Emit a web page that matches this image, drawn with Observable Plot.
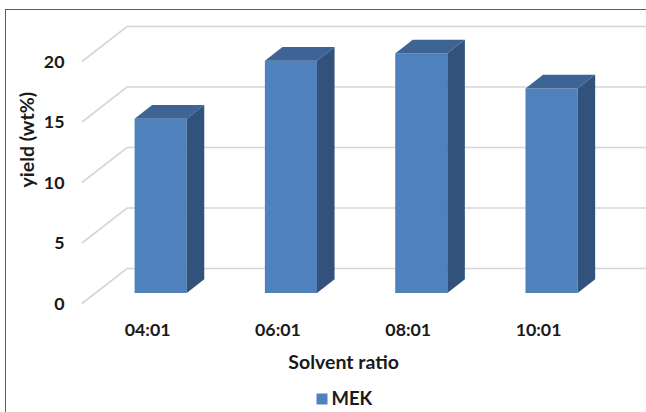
<!DOCTYPE html>
<html><head><meta charset="utf-8">
<script src="https://cdn.jsdelivr.net/npm/d3@7"></script>
<script src="https://cdn.jsdelivr.net/npm/@observablehq/plot@0.6"></script>
<style>
html,body{margin:0;padding:0;background:#fff;}
#frame{position:absolute;left:5px;top:9px;width:700px;height:500px;border-left:1.6px solid #5e5e5e;border-top:1.6px solid #5e5e5e;}
#chart{position:absolute;left:0;top:0;}
</style></head><body>
<div id="frame"></div><div id="chart"></div>
<script>
// ---- data ----
const categories = ["04:01", "06:01", "08:01", "10:01"];
const yieldValues = [14.4, 19.2, 19.8, 16.9];
const yTicks = [0, 5, 10, 15, 20];
const seriesName = "MEK";
const xTitle = "Solvent ratio";
const yTitle = "yield (wt%)";

const data = categories.map((c, i) => ({ratio: c, value: yieldValues[i]}));

// ---- style ----
const FRONT = "#4F81BD", TOP = "#3D6494", SIDE = "#32527B", GRID = "#d6d6d6", INK = "#1a1a1a";
const DEPTH = [45, -35];        // floor depth vector (px)
const BAR0 = 0.3, BAR1 = 0.69;  // bar depth span (fraction of floor depth)
const FONT = "Lato, 'Open Sans', sans-serif";

function grid(index, scales, values, dims) {
  const y = scales.y;
  const g = d3.create("svg:g").attr("stroke", GRID).attr("stroke-width", 1.6).attr("fill", "none");
  for (const t of yTicks) {
    const yv = y(t);
    const fx = dims.marginLeft - BAR0 * DEPTH[0], fy = yv - BAR0 * DEPTH[1];
    const bx = fx + DEPTH[0], by = fy + DEPTH[1];
    g.append("path").attr("d", `M${fx},${fy}L${bx},${by}H${dims.width + 20}`);
  }
  return g.node();
}

function bars3d(index, scales) {
  const {x, y} = scales;
  const bw = x.bandwidth();
  const ddx = (BAR1 - BAR0) * DEPTH[0], ddy = (BAR1 - BAR0) * DEPTH[1];
  const g = d3.create("svg:g");
  for (const d of data) {
    const xl = x(d.ratio), xr = xl + bw, yt = y(d.value), yb = y(0);
    g.append("path").attr("fill", TOP)
      .attr("d", `M${xl},${yt}L${xr},${yt}L${xr + ddx},${yt + ddy}L${xl + ddx},${yt + ddy}Z`);
    g.append("path").attr("fill", SIDE)
      .attr("d", `M${xr},${yb}L${xr},${yt}L${xr + ddx},${yt + ddy}L${xr + ddx},${yb + ddy}Z`);
  }
  return g.node();
}

const chart = Plot.plot({
  width: 646,
  height: 412,
  marginLeft: 95.5,
  marginRight: 29.3,
  marginTop: 51,
  marginBottom: 119,
  style: {fontFamily: FONT, fontSize: "17.5px", fontWeight: "bold", color: INK, background: "transparent"},
  x: {type: "band", domain: categories, paddingInner: 0.6, paddingOuter: 0.3, round: false, label: null},
  y: {type: "linear", domain: [0, 20], label: null},
  marks: [
    grid,
    Plot.barY(data, {x: "ratio", y: "value", fill: FRONT}),
    bars3d,
    Plot.axisX({tickSize: 0, tickPadding: 30, dx: -13.5, fontSize: 17.8, fontWeight: "bold", color: INK, label: null}),
    Plot.axisY({ticks: yTicks, tickSize: 0, tickPadding: 18, dx: -13.5, dy: 10.5, fontSize: 17.8, fontWeight: "bold", color: INK, label: null}),
    Plot.text([xTitle], {frameAnchor: "bottom", text: d => d, dx: -13, dy: 69.5, lineAnchor: "middle", fontSize: 19.5, fontWeight: "bold", fill: INK}),
    Plot.text([yTitle], {frameAnchor: "left", text: d => d, rotate: -90, dx: -68.5, dy: 15, lineAnchor: "middle", fontSize: 19.5, fontWeight: "bold", fill: INK}),
    Plot.dot([seriesName], {frameAnchor: "bottom", symbol: "square", r: 6.2, fill: FRONT, stroke: null, dx: -34.6, dy: 105.5}),
    Plot.text([seriesName], {frameAnchor: "bottom", text: d => d, textAnchor: "start", dx: -25.1, dy: 105.5, lineAnchor: "middle", fontSize: 18.5, fontWeight: "bold", fill: INK})
  ]
});
document.getElementById("chart").appendChild(chart);
</script>
</body></html>
